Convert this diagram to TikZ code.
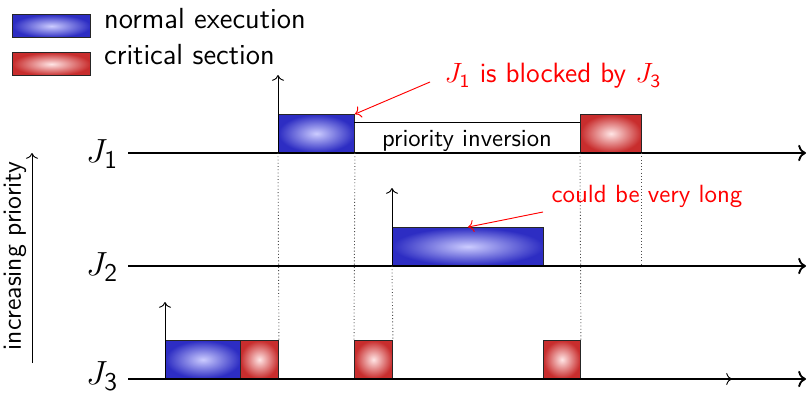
\documentclass[tikz,border=0pt]{standalone}
\usepackage{amsmath,amssymb}
\usepackage{tikz}
\usetikzlibrary{positioning,arrows.meta}
\renewcommand{\familydefault}{\sfdefault}

\tikzset{
  normalbox/.style={rectangle,draw=black!85,inner sep=0pt,minimum height=38*0.43pt,
    anchor=south west,inner color=blue!20,outer color={rgb,255:red,45;green,45;blue,195}},
  critbox/.style={rectangle,draw=black!85,inner sep=0pt,minimum height=38*0.43pt,
    anchor=south west,inner color=red!10,outer color={rgb,255:red,200;green,45;blue,45}},
  joblabel/.style={anchor=east,inner xsep=4pt,inner ysep=0pt,font=\fontsize{15}{18}\selectfont},
  timeaxis/.style={->,thick},
  release/.style={->},
  marker/.style={densely dotted,black!70},
  remark/.style={red,->}
}

\begin{document}
\begin{tikzpicture}[x=0.43pt,y=0.43pt]
    \useasboundingbox (0,0) rectangle (808,392);

    % Legend
    \node[normalbox,minimum width=78*0.43pt,minimum height=23*0.43pt] (legn) at (12,354) {};
    \node[anchor=west] at (96,373) {\fontsize{12.5}{15}\selectfont normal execution};
    \node[critbox,minimum width=78*0.43pt,minimum height=23*0.43pt] (legc) at (12,316) {};
    \node[anchor=west] at (96,337) {\fontsize{12.5}{15}\selectfont critical section};

    % Priority
    \coordinate (plow) at (32,29);
    \coordinate (phigh) at (32,239);
    \draw[->] (plow) -- (phigh);
    \node[rotate=90] (prio) at (15,136) {\fontsize{11.3}{13}\selectfont increasing priority};

    % Jobs
    \node[joblabel] (J1) at (128,238) {$J_{\mathsf{1}}$};
    \node[joblabel] (J2) at (128,125) {$J_{\mathsf{2}}$};
    \node[joblabel] (J3) at (128,16) {$J_{\mathsf{3}}$};
    \coordinate (e1) at (806,239);
    \coordinate (e2) at (806,126);
    \coordinate (e3) at (806,13);
    \coordinate (d3) at (732,13);

    % Executions
    \node[normalbox,minimum width=75*0.43pt] (n3) at (165,13) {};
    \node[critbox,minimum width=38*0.43pt] (c3a) at (240,13) {};
    \node[normalbox,minimum width=76*0.43pt] (n1) at (278,239) {};
    \node[critbox,minimum width=38*0.43pt] (c3b) at (354,13) {};
    \node[normalbox,minimum width=151*0.43pt] (n2) at (392,126) {};
    \node[critbox,minimum width=37*0.43pt] (c3c) at (543,13) {};
    \node[critbox,minimum width=61*0.43pt] (c1) at (580,239) {};

    % Axes
    \draw[->] (J3.east |- e3) -- (d3);
    \draw[timeaxis] (J1.east |- e1) -- (e1);
    \draw[timeaxis] (J2.east |- e2) -- (e2);
    \draw[timeaxis] (J3.east |- e3) -- (e3);

    % Releases
    \coordinate (r1) at (278,317);
    \coordinate (r2) at (392,204);
    \coordinate (r3) at (165,90);
    \draw[release] (n1.south west) -- (r1);
    \draw[release] (n2.south west) -- (r2);
    \draw[release] (n3.south west) -- (r3);

    % Markers
    \draw[marker] (n1.south west) -- (c3a.north east);
    \draw[marker] (n1.south east) -- (c3b.north west);
    \draw[marker] (n2.south west) -- (c3b.north east);
    \draw[marker] (c1.south west) -- (c3c.north east);
    \draw[marker] (c1.south east) -- (c1.south east |- n2.south);

    % Inversion
    \coordinate (i1) at (354,270);
    \coordinate (i2) at (580,270);
    \draw (i1) -- (i2);
    \node (inv) at (467,251) {\fontsize{10.6}{12}\selectfont priority inversion};

    % Remarks
    \node[red] (blk) at (553,316) {\large $J_{\mathsf{1}}$ is blocked by $J_{\mathsf{3}}$};
    \node[red] (long) at (647,196) {\fontsize{10.7}{13}\selectfont could be very long};
    \coordinate (b0) at (430,310);
    \coordinate (l0) at (543,180);
    \draw[remark] (b0) -- (n1.north east);
    \draw[remark] (l0) -- (n2.north);
\end{tikzpicture}
\end{document}
